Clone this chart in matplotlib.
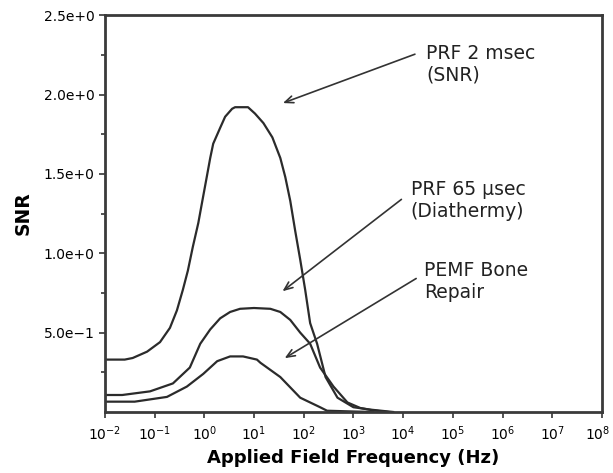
import numpy as np
import matplotlib.pyplot as plt
from matplotlib.transforms import ScaledTranslation

# curve data: log10(frequency) and SNR
prf2_logf = [-2, -1.6, -1.44, -1.15, -0.89, -0.69, -0.55, -0.43, -0.33, -0.23, -0.12, -0.05,
             0.05, 0.12, 0.18, 0.32, 0.42, 0.56, 0.62, 0.88, 1.02, 1.19, 1.37, 1.53, 1.63,
             1.73, 1.83, 1.93, 2.03, 2.13, 2.27, 2.44, 2.68, 3.0, 3.34, 3.8]
prf2_snr = [0.33, 0.33, 0.34, 0.38, 0.44, 0.53, 0.64, 0.77, 0.89, 1.04, 1.19, 1.31,
            1.48, 1.60, 1.69, 1.79, 1.86, 1.91, 1.92, 1.92, 1.88, 1.82, 1.73, 1.60, 1.48,
            1.33, 1.14, 0.96, 0.77, 0.56, 0.43, 0.22, 0.09, 0.03, 0.015, 0.0]

prf65_logf = [-2, -1.65, -1.09, -0.63, -0.29, -0.08, 0.12, 0.32, 0.52, 0.72, 1.0, 1.33,
              1.53, 1.73, 1.93, 2.13, 2.33, 2.6, 2.88, 3.14, 3.4, 3.7]
prf65_snr = [0.107, 0.107, 0.13, 0.18, 0.28, 0.43, 0.52, 0.59, 0.63, 0.65, 0.655, 0.65,
             0.63, 0.58, 0.50, 0.43, 0.28, 0.16, 0.06, 0.025, 0.01, 0.0]

pemf_logf = [-2, -1.4, -0.75, -0.35, -0.02, 0.26, 0.52, 0.78, 1.06, 1.13, 1.53, 1.93,
             2.33, 2.47, 3.0, 3.4]
pemf_snr = [0.065, 0.065, 0.095, 0.16, 0.24, 0.32, 0.35, 0.35, 0.33, 0.31, 0.22, 0.09,
            0.03, 0.008, 0.003, 0.0]

ytick_vals = [0.5, 1.0, 1.5, 2.0, 2.5]
ytick_labels = ['5.0e\u22121', '1.0e+0', '1.5e+0', '2.0e+0', '2.5e+0']

# annotations: text, text position (log10 f, snr), arrow tail, arrow head
labels = ['PRF 2 msec\n(SNR)', 'PRF 65 \u03bcsec\n(Diathermy)', 'PEMF Bone\nRepair']
label_pos = [(4.47, 2.32), (4.15, 1.46), (4.42, 0.95)]
arrow_tail = [(4.29, 2.26), (4.01, 1.35), (4.31, 0.85)]
arrow_head = [(1.53, 1.94), (1.53, 0.75), (1.57, 0.33)]

line_col = '#2b2b2b'

fig = plt.figure(figsize=(6.13, 4.73), dpi=100)
ax = fig.add_axes([0.171, 0.129, 0.811, 0.839])

for lf, s in [(prf2_logf, prf2_snr), (prf65_logf, prf65_snr), (pemf_logf, pemf_snr)]:
    ax.plot(10.0 ** np.array(lf), s, color=line_col, lw=1.6)

ax.set_xscale('log')
ax.set_xlim(1e-2, 1e8)
ax.set_ylim(0, 2.5)
ax.set_xticks([10.0 ** k for k in range(-2, 9)])
ax.xaxis.set_minor_locator(plt.NullLocator())
ax.set_yticks(ytick_vals)
ax.set_yticklabels(ytick_labels)
ax.set_yticks([0.25, 0.75, 1.25, 1.75, 2.25], minor=True)
ax.tick_params(axis='both', which='major', labelsize=10, length=4, width=1.3,
               color='#444444', direction='out')
ax.tick_params(axis='x', pad=5)
ax.tick_params(axis='y', which='minor', length=3, width=1.3, color='#444444')

# last x label sits right at the figure edge, pull it in a little
fig.canvas.draw()
last = ax.get_xticklabels()[-1]
last.set_transform(last.get_transform() + ScaledTranslation(-3 / 72, 0, fig.dpi_scale_trans))

for sp in ax.spines.values():
    sp.set_linewidth(2)
    sp.set_color('#3a3a3a')

ax.set_xlabel('Applied Field Frequency (Hz)', fontsize=13, fontweight='bold', labelpad=4)
ax.set_ylabel('SNR', fontsize=13.5, fontweight='bold', labelpad=8)

for txt, tp, tl, hd in zip(labels, label_pos, arrow_tail, arrow_head):
    ax.text(10 ** tp[0], tp[1], txt, fontsize=13.5, va='top', ha='left',
            color='#222222', linespacing=1.2)
    ax.annotate('', xy=(10 ** hd[0], hd[1]), xytext=(10 ** tl[0], tl[1]),
                arrowprops=dict(arrowstyle='->,head_length=0.6,head_width=0.25',
                                color='#333333', lw=1.2))

fig.savefig('out.png', dpi=100)
